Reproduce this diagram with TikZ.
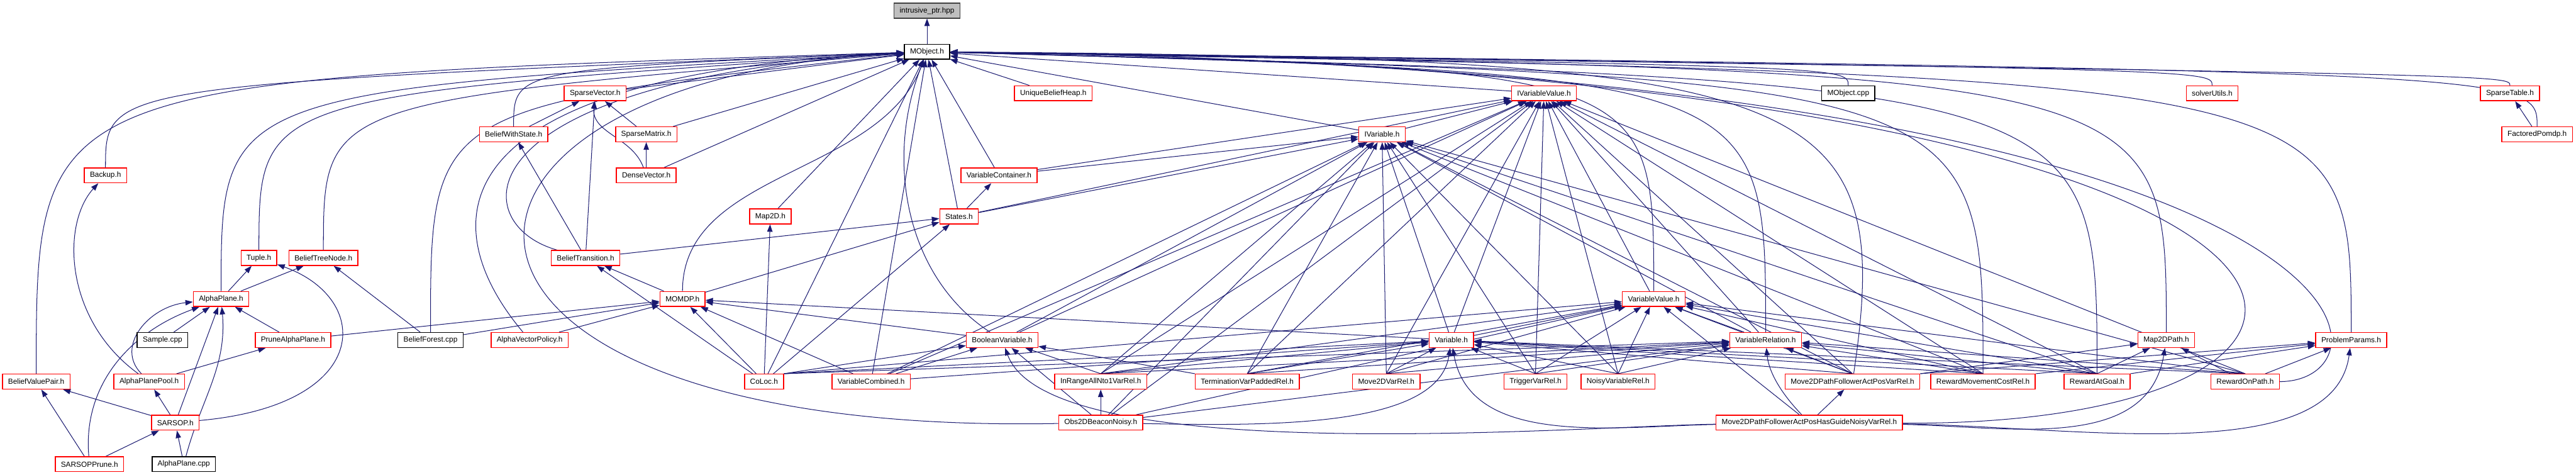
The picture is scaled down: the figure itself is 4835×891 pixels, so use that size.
\documentclass[tikz,border=0pt]{standalone}
\usepackage{fontspec}
\setmainfont{Liberation Sans}
\usetikzlibrary{arrows.meta}
\definecolor{edgeblue}{HTML}{191970}
\definecolor{boxred}{HTML}{FF0000}
\definecolor{rootgray}{HTML}{BFBFBF}
\pgfdeclarelayer{background}
\pgfsetlayers{background,main}

\begin{document}
\begin{tikzpicture}[>={Triangle[length=14pt,width=10pt]},x=1pt,y=1pt]
  \tikzstyle{hdr}=[draw=boxred,fill=white,line width=1.7pt,minimum height=28pt,inner xsep=10.5pt,inner ysep=0pt,font=\fontsize{14}{16}\selectfont]
  \tikzstyle{srcfile}=[hdr,draw=black]
  \tikzstyle{dep}=[->,draw=edgeblue,line width=1.2pt]
  \tikzset{uproute/.style={to path={.. controls (\tikztostart |- 0,-#1) and (\tikztostart |- 0,-#1) .. (\tikztotarget)}}}
  \useasboundingbox (0,0) rectangle (4835,-891);
  \node[hdr,draw=black!75,fill=rootgray] (intr) at (1740,-20) {intrusive\_ptr.hpp};
  \node[srcfile] (mobj) at (1740,-97) {MObject.h};
  \node[hdr] (svec) at (1117,-175) {SparseVector.h};
  \node[hdr] (ubh) at (1977,-175) {UniqueBeliefHeap.h};
  \node[hdr] (ivv) at (2898,-175) {IVariableValue.h};
  \node[srcfile] (mcpp) at (3469,-175) {MObject.cpp};
  \node[hdr] (sutil) at (4152,-175) {solverUtils.h};
  \node[hdr] (stab) at (4711,-175) {SparseTable.h};
  \node[hdr] (bws) at (964,-252) {BeliefWithState.h};
  \node[hdr] (smat) at (1213,-252) {SparseMatrix.h};
  \node[hdr] (ivar) at (2594,-252) {IVariable.h};
  \node[hdr] (fpom) at (4762,-252) {FactoredPomdp.h};
  \node[hdr] (backup) at (198,-329) {Backup.h};
  \node[hdr] (dvec) at (1213,-329) {DenseVector.h};
  \node[hdr] (vcont) at (1875,-329) {VariableContainer.h};
  \node[hdr] (map2d) at (1446,-406) {Map2D.h};
  \node[hdr] (states) at (1800,-406) {States.h};
  \node[hdr] (tuple) at (486,-484) {Tuple.h};
  \node[hdr] (btn) at (607,-484) {BeliefTreeNode.h};
  \node[hdr] (btrans) at (1099,-484) {BeliefTransition.h};
  \node[hdr] (aplane) at (415,-561) {AlphaPlane.h};
  \node[hdr] (momdp) at (1281,-561) {MOMDP.h};
  \node[hdr] (vval) at (3104,-561) {VariableValue.h};
  \node[srcfile] (sample) at (305,-638) {Sample.cpp};
  \node[hdr] (prune) at (550,-638) {PruneAlphaPlane.h};
  \node[srcfile] (bforest) at (808,-638) {BeliefForest.cpp};
  \node[hdr] (avpol) at (994,-638) {AlphaVectorPolicy.h};
  \node[hdr] (boolv) at (1881,-638) {BooleanVariable.h};
  \node[hdr] (var) at (2724,-638) {Variable.h};
  \node[hdr] (vrel) at (3314,-638) {VariableRelation.h};
  \node[hdr] (mdpath) at (4066,-638) {Map2DPath.h};
  \node[hdr] (pparam) at (4413,-638) {ProblemParams.h};
  \node[hdr] (bvp) at (68,-716) {BeliefValuePair.h};
  \node[hdr] (appool) at (280,-716) {AlphaPlanePool.h};
  \node[hdr] (coloc) at (1434,-716) {CoLoc.h};
  \node[hdr] (vcomb) at (1635,-716) {VariableCombined.h};
  \node[hdr] (inrange) at (2066,-716) {InRangeAllNto1VarRel.h};
  \node[hdr] (term) at (2341,-716) {TerminationVarPaddedRel.h};
  \node[hdr] (m2dvr) at (2602,-716) {Move2DVarRel.h};
  \node[hdr] (trig) at (2882,-716) {TriggerVarRel.h};
  \node[hdr] (noisy) at (3037,-716) {NoisyVariableRel.h};
  \node[hdr] (m2dpf) at (3477,-716) {Move2DPathFollowerActPosVarRel.h};
  \node[hdr] (rmc) at (3722,-716) {RewardMovementCostRel.h};
  \node[hdr] (rgoal) at (3936,-716) {RewardAtGoal.h};
  \node[hdr] (ronpath) at (4214,-716) {RewardOnPath.h};
  \node[hdr] (sarsop) at (329,-793) {SARSOP.h};
  \node[hdr] (obs2d) at (2066,-793) {Obs2DBeaconNoisy.h};
  \node[hdr] (guide) at (3396,-793) {Move2DPathFollowerActPosHasGuideNoisyVarRel.h};
  \node[hdr] (sprune) at (168,-871) {SARSOPPrune.h};
  \node[srcfile] (apcpp) at (345,-871) {AlphaPlane.cpp};
  \begin{pgfonlayer}{background}
  \foreach \a/\b in {mobj/intr,svec/mobj,ubh/mobj,ivv/mobj,smat/mobj,dvec/mobj,vcont/mobj,states/mobj,map2d/mobj,coloc/mobj,vcomb/mobj,ivar/mobj,
    bws/svec,smat/svec,dvec/smat,btrans/svec,btrans/bws,btrans/states,
    momdp/btrans,momdp/states,coloc/btrans,coloc/map2d,coloc/states,coloc/momdp,vcomb/momdp,
    prune/momdp,bforest/momdp,avpol/momdp,boolv/momdp,var/momdp,
    states/vcont,states/ivar,states/ivv,vcont/ivar,vcont/ivv,ivar/ivv,fpom/stab,
    aplane/tuple,aplane/btn,sample/aplane,prune/aplane,sarsop/aplane,bforest/btn,appool/prune,
    sarsop/bvp,sarsop/appool,sprune/bvp,sprune/sarsop,apcpp/sarsop,
    obs2d/inrange,guide/m2dpf,guide/vval,
    boolv/ivar,boolv/ivv,var/ivar,var/ivv,var/vval,vval/ivv,vrel/ivar,vrel/ivv,vrel/vval,
    vcomb/ivar,vcomb/ivv,vcomb/var,vcomb/boolv,obs2d/boolv,obs2d/vval,obs2d/vrel,obs2d/ivar,obs2d/ivv,
    ronpath/mdpath,ronpath/pparam,inrange.north/boolv,term.north west/boolv,
    m2dpf.north east/mdpath,m2dpf.north east/pparam,rmc.north east/pparam,rgoal.north/mdpath,rgoal.north east/pparam,
    coloc.north east/boolv,coloc.north east/var,coloc.north east/vval,coloc.north east/vrel}
    \draw[dep] (\a) -- (\b);
  \foreach \a in {inrange,term,m2dvr,trig,noisy,m2dpf,rmc,rgoal,ronpath}
    \foreach \b in {ivar,ivv,var,vval,vrel}
      \draw[dep] (\a.north) -- (\b);
  \foreach \a/\h in {bvp/150,backup/160,aplane/170,tuple/180,btn/190,bforest/200,bws/130,
    mcpp/125,sutil/130,stab/140,fpom/135,mdpath/135,pparam/145,rmc/150,rgoal/155,vrel/140,vval/130}
    \draw[dep] (\a) to[uproute=\h] (mobj);
  \draw[dep] (avpol) .. controls (811,-420) and (811,-140) .. (mobj);
  \draw[dep] (btrans) .. controls (870,-420) and (862,-150) .. (mobj);
  \draw[dep] (obs2d) .. controls (700,-820) and (709,-150) .. (mobj);
  \draw[dep] (m2dpf) .. controls (3560,-160) and (3400,-110) .. (mobj);
  \draw[dep] (guide) .. controls (4618,-800) and (4618,-130) .. (mobj);
  \draw[dep] (ronpath) .. controls (4518,-716) and (4518,-130) .. (mobj);
  \draw[dep] (boolv) .. controls (1700,-520) and (1660,-300) .. (mobj);
  \draw[dep] (momdp) .. controls (1281,-320) and (1650,-330) .. (mobj);
  \draw[dep] (dvec) to[out=110,in=-95] (svec);
  \draw[dep] (sprune) to[out=95,in=200] (aplane);
  \draw[dep] (appool) .. controls (215,-650) and (280,-575) .. (aplane);
  \draw[dep] (apcpp) to[out=75,in=-85] (aplane);
  \draw[dep] (sarsop) .. controls (700,-760) and (700,-560) .. (tuple);
  \draw[dep] (appool) .. controls (120,-600) and (115,-420) .. (backup);
  \draw[dep] (guide) .. controls (3345,-740) and (3320,-700) .. (vrel);
  \draw[dep] (guide) .. controls (3030,-800) and (2760,-840) .. (var);
  \draw[dep] (guide) .. controls (2960,-800) and (1970,-880) .. (boolv);
  \draw[dep] (guide) .. controls (3770,-800) and (4030,-850) .. (mdpath);
  \draw[dep] (guide) .. controls (3900,-800) and (4380,-880) .. (pparam);
  \draw[dep] (obs2d) .. controls (2400,-800) and (2700,-800) .. (var);
  \end{pgfonlayer}
\end{tikzpicture}
\end{document}
